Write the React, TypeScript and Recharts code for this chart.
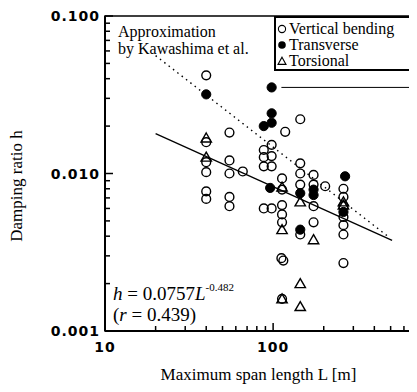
import {
  ScatterChart,
  Scatter,
  XAxis,
  YAxis,
  ReferenceArea,
} from 'recharts';

// [span L (m), damping ratio h]
const verticalBending: [number, number][] = [
  [40, 0.042], [40, 0.0158], [40, 0.0118], [40, 0.0102], [40, 0.0077], [40, 0.0069],
  [55, 0.0182], [55, 0.0121], [55, 0.01], [55, 0.0071], [55, 0.0062],
  [66, 0.0103],
  [88, 0.0141], [88, 0.0127], [88, 0.0111], [88, 0.006],
  [98, 0.0152], [98, 0.0129], [98, 0.0111], [98, 0.006],
  [118, 0.0184],
  [113, 0.0093], [113, 0.0079], [113, 0.0063], [113, 0.0055], [113, 0.0049],
  [112, 0.0029], [115, 0.0028], [113, 0.0016],
  [145, 0.0221], [145, 0.0116], [145, 0.01], [145, 0.0085], [145, 0.0041],
  [174, 0.0098], [174, 0.0085], [174, 0.0062], [174, 0.0049],
  [204, 0.0083],
  [262, 0.008], [262, 0.0071], [262, 0.0062], [262, 0.0053], [262, 0.0047],
  [262, 0.0041], [262, 0.0027],
];

const transverse: [number, number][] = [
  [40, 0.0318], [88, 0.02], [98, 0.0241], [98, 0.021], [98, 0.0352], [96, 0.0081],
  [145, 0.0075], [145, 0.0044], [174, 0.0079], [174, 0.0073], [268, 0.0096], [262, 0.0057],
];

const torsional: [number, number][] = [
  [40, 0.0168], [40, 0.0127], [113, 0.0082], [113, 0.0044], [113, 0.0016],
  [145, 0.0066], [145, 0.002], [145, 0.00143], [174, 0.0038], [262, 0.0066], [262, 0.0063],
];

// regression line h = 0.0757 L^-0.482 (ends)
const fitEnds: [number, number][] = [[20, 0.0179], [510, 0.00376]];
// approximation by Kawashima et al. (dotted)
const kawashimaEnds: [number, number][] = [[20, 0.056], [480, 0.004]];
// leader line from the top transverse point
const leaderEnds: [number, number][] = [[112, 0.0352], [670, 0.0352]];

const xTicks = [10, 20, 30, 40, 50, 60, 70, 80, 90, 100, 200, 300, 400, 500, 600];
const xLabels: Record<number, string> = { 10: '10', 100: '100' };
const yTicks = [
  0.001, 0.002, 0.003, 0.004, 0.005, 0.006, 0.007, 0.008, 0.009,
  0.01, 0.02, 0.03, 0.04, 0.05, 0.06, 0.07, 0.08, 0.09, 0.1,
];
const yLabels: Record<number, string> = { 0.001: '0.001', 0.01: '0.010', 0.1: '0.100' };

const toPts = (arr: [number, number][]) => arr.map(([L, h]) => ({ L, h }));

const serif = '"Liberation Serif", "Times New Roman", serif';
const tickFont = { fontFamily: '"DejaVu Sans", sans-serif', fontWeight: 700, fontSize: 14, letterSpacing: 1 };

const YTick = ({ x, y, payload }: any) => {
  const label = yLabels[payload.value];
  return (
    <g>
      <line x1={x} x2={x + (label ? 8 : 5)} y1={y} y2={y} stroke="#000" strokeWidth={1.5} />
      {label && (
        <text x={x - 5} y={y} dy={5} textAnchor="end" fill="#000" style={tickFont}>
          {label}
        </text>
      )}
    </g>
  );
};

const XTick = ({ x, y, payload }: any) => {
  const label = xLabels[payload.value];
  return (
    <g>
      <line x1={x} x2={x} y1={y} y2={y - (label ? 8 : 5)} stroke="#000" strokeWidth={1.5} />
      {label && (
        <text x={x} y={y} dy={21} textAnchor="middle" fill="#000" style={tickFont}>
          {label}
        </text>
      )}
    </g>
  );
};

const YTitle = () => (
  <text x={22} y={186} transform="rotate(-90, 22, 186)" textAnchor="middle" fill="#000" fontSize={17} fontFamily={serif}>
    Damping ratio h
  </text>
);

const OpenCircle = (p: any) => (
  <circle cx={p.cx} cy={p.cy} r={4.4} fill="none" stroke="#000" strokeWidth={1.4} />
);
const FilledCircle = (p: any) => (
  <circle cx={p.cx} cy={p.cy} r={4.6} fill="#000" stroke="#000" strokeWidth={1} />
);
const Triangle = (p: any) => (
  <path
    d={`M${p.cx},${p.cy - 5} L${p.cx + 5.2},${p.cy + 4} L${p.cx - 5.2},${p.cy + 4} Z`}
    fill="none"
    stroke="#000"
    strokeWidth={1.4}
  />
);
const NoShape = () => <g />;

export default function App() {
  return (
    <div style={{ position: 'relative', width: 417, height: 392, margin: -8, background: '#fff', fontFamily: serif }}>
      <ScatterChart width={417} height={392} margin={{ top: 16, right: 5, bottom: 0, left: 0 }}>
        <XAxis
          dataKey="L"
          type="number"
          scale="log"
          domain={[10, 670]}
          ticks={xTicks}
          interval={0}
          allowDataOverflow
          height={61}
          tickSize={0}
          tickMargin={0}
          tickLine={false}
          tick={<XTick />}
          axisLine={{ stroke: '#000', strokeWidth: 2 }}
          label={{ value: 'Maximum span length L [m]', position: 'insideBottom', offset: 12, fill: '#000', fontSize: 17, fontFamily: serif }}
        />
        <YAxis
          dataKey="h"
          type="number"
          scale="log"
          domain={[0.001, 0.1]}
          ticks={yTicks}
          interval={0}
          allowDataOverflow
          width={105}
          tickSize={0}
          tickMargin={0}
          tickLine={false}
          tick={<YTick />}
          axisLine={{ stroke: '#000', strokeWidth: 2 }}
          label={<YTitle />}
        />
        <ReferenceArea x1={10} x2={670} y1={0.001} y2={0.1} fill="none" stroke="#000" strokeWidth={1.5} ifOverflow="visible" />
        <Scatter data={toPts(kawashimaEnds)} line={{ stroke: '#000', strokeWidth: 1.4, strokeDasharray: '1.5 4' }} shape={NoShape} isAnimationActive={false} />
        <Scatter data={toPts(fitEnds)} line={{ stroke: '#000', strokeWidth: 1.3 }} shape={NoShape} isAnimationActive={false} />
        <Scatter data={toPts(leaderEnds)} line={{ stroke: '#000', strokeWidth: 1 }} shape={NoShape} isAnimationActive={false} />
        <Scatter data={toPts(verticalBending)} shape={OpenCircle} isAnimationActive={false} />
        <Scatter data={toPts(transverse)} shape={FilledCircle} isAnimationActive={false} />
        <Scatter data={toPts(torsional)} shape={Triangle} isAnimationActive={false} />
      </ScatterChart>

      <div style={{ position: 'absolute', left: 118, top: 23, fontSize: 16, lineHeight: '17px', color: '#000' }}>
        Approximation
        <br />
        by Kawashima et al.
      </div>

      <div
        style={{
          position: 'absolute', left: 274, top: 16, width: 139, height: 55, boxSizing: 'border-box',
          border: '2px solid #000', background: '#fff', paddingTop: 3, fontSize: 16, lineHeight: '16px', color: '#000',
        }}
      >
        {[
          { name: 'Vertical bending', icon: <circle cx={5} cy={5} r={3.6} fill="none" stroke="#000" strokeWidth={1.1} /> },
          { name: 'Transverse', icon: <circle cx={5} cy={5} r={3.8} fill="#000" /> },
          { name: 'Torsional', icon: <path d="M5,1.2 L9,8.4 L1,8.4 Z" fill="none" stroke="#000" strokeWidth={1.1} /> },
        ].map((it) => (
          <div key={it.name} style={{ display: 'flex', alignItems: 'center', whiteSpace: 'nowrap', height: 16 }}>
            <svg width={10} height={10} style={{ marginLeft: 1, marginRight: 2 }}>{it.icon}</svg>
            {it.name}
          </div>
        ))}
      </div>

      <div style={{ position: 'absolute', left: 113, top: 278, fontSize: 19, lineHeight: '22px', color: '#000', whiteSpace: 'nowrap' }}>
        <i>h</i> = 0.0757<i>L</i>
        <sup style={{ fontSize: 11, position: 'relative', top: -2 }}>-0.482</sup>
      </div>
      <div style={{ position: 'absolute', left: 113, top: 304, fontSize: 19, lineHeight: '22px', color: '#000', whiteSpace: 'nowrap' }}>
        (<i>r</i> = 0.439)
      </div>
    </div>
  );
}
